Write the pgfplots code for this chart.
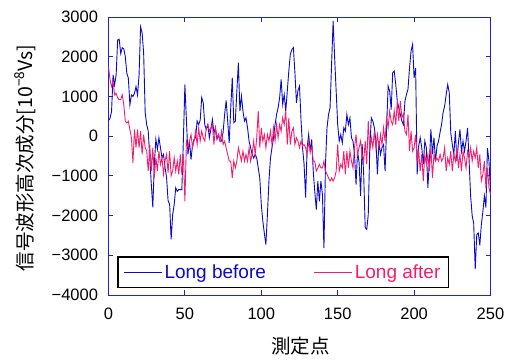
\documentclass[border=0pt]{standalone}
\usepackage{fontspec}
\setmainfont{Liberation Sans}
\newfontfamily\jp{Noto Sans CJK JP}
\usepackage{pgfplots}
\usepackage{pgfplotstable}
\pgfplotsset{compat=1.18}
\definecolor{axblue}{RGB}{30,30,235}
\definecolor{lblue}{RGB}{10,10,205}
\definecolor{lpink}{RGB}{245,30,110}
\pgfplotstableread{
x y
0 390
1 450
2 625
3 1540
4 1290
5 1540
6 2420
7 2440
8 2080
9 2225
10 2200
11 2000
12 1580
13 1460
14 790
15 1040
16 1000
17 1080
18 1250
19 1040
20 1540
21 2750
22 2600
23 2100
24 600
25 290
26 125
27 -540
28 -1200
29 -1790
30 -700
31 -80
32 -330
33 -40
34 -290
35 -540
36 -460
37 -790
38 -1040
39 -1630
40 -1710
41 -2600
42 -1975
43 -1720
44 -1300
45 -1390
46 -1345
47 -1345
48 -1350
49 -100
50 1300
51 400
52 -460
53 -125
54 -590
55 -210
56 -80
57 -40
58 380
59 290
60 400
61 970
62 840
63 290
64 170
65 290
66 -40
67 170
68 420
69 80
70 210
71 -80
72 40
73 -125
74 -125
75 100
76 545
77 900
78 380
79 -170
80 715
81 1470
82 340
83 380
84 1130
85 1850
86 630
87 1010
88 630
89 380
90 460
91 210
92 -125
93 -290
94 -460
95 -550
96 -460
97 -550
98 -800
99 -1050
100 -1720
101 -2140
102 -2450
103 -2730
104 -1975
105 -1130
106 -550
107 -290
108 -40
109 290
110 545
111 715
112 970
113 1430
114 800
115 1050
116 630
117 1130
118 1640
119 2060
120 2180
121 2230
122 1600
123 840
124 1150
125 1260
126 400
127 -300
128 -710
129 -1550
130 -290
131 40
132 -380
133 -80
134 -880
135 -1400
136 -1850
137 -1130
138 -1640
139 -1130
140 -1470
141 -2820
142 -710
143 210
144 545
145 715
146 1810
147 2900
148 1970
149 1130
150 290
151 -125
152 40
153 -170
154 210
155 125
156 545
157 290
158 460
159 -40
160 -125
161 -460
162 -1220
163 -380
164 -670
165 -1510
166 -200
167 -960
168 -2300
169 -2350
170 -1975
171 -290
172 460
173 380
174 210
175 -125
176 -960
177 -125
178 -460
179 -290
180 -210
181 -880
182 210
183 1260
184 1130
185 670
186 1600
187 1640
188 1300
189 880
190 715
191 545
192 380
193 290
194 880
195 1050
196 1180
197 1720
198 2140
199 2310
200 1470
201 1720
202 -960
203 -250
204 -40
205 -290
206 -710
207 -125
208 -290
209 -1300
210 -630
211 170
212 -460
213 -40
214 -630
215 -250
216 -125
217 100
218 300
219 600
220 760
221 1050
222 1300
223 1100
224 80
225 -210
226 -460
227 125
228 -630
229 -170
230 170
231 -380
232 -125
233 -380
234 -125
235 210
236 -630
237 -1510
238 -2000
239 -2200
240 -3350
241 -2480
242 -2440
243 -2750
244 -2230
245 -1900
246 -1500
247 -1800
248 -300
249 -630
250 -1390
}\before
\pgfplotstableread{
x y
0 1750
1 1420
2 1250
3 1375
4 1040
5 1080
6 960
7 920
8 920
9 1040
10 790
11 375
12 330
13 375
14 170
15 -40
16 -670
17 170
18 -290
19 170
20 -290
21 125
22 -460
23 40
24 -290
25 -375
26 -875
27 -210
28 -875
29 -290
30 -1040
31 -540
32 -875
33 -375
34 -710
35 -540
36 -960
37 -625
38 -460
39 -920
40 -375
41 -1000
42 -880
43 -540
44 -880
45 -630
46 -960
47 -460
48 -960
49 -460
50 -1640
51 -125
52 -290
53 -125
54 40
55 -290
56 -125
57 125
58 -210
59 210
60 -125
61 125
62 -40
63 -125
64 210
65 290
66 125
67 210
68 290
69 -210
70 210
71 -40
72 40
73 -125
74 125
75 -210
76 -125
77 -300
78 -460
79 -630
80 -630
81 -1050
82 -630
83 -800
84 -630
85 -290
86 -460
87 -630
88 -375
89 -630
90 -460
91 -630
92 -290
93 -630
94 -460
95 -125
96 -460
97 -40
98 630
99 -290
100 210
101 -125
102 40
103 -290
104 40
105 -125
106 125
107 -210
108 210
109 -125
110 290
111 -40
112 290
113 125
114 460
115 290
116 630
117 -210
118 460
119 -210
120 125
121 210
122 -210
123 -40
124 -125
125 -290
126 -125
127 -250
128 -210
129 -290
130 -460
131 -125
132 -380
133 -290
134 -630
135 -630
136 -880
137 -800
138 -710
139 -800
140 -800
141 -630
142 -880
143 -960
144 -1050
145 -1130
146 -1050
147 -1130
148 -1050
149 -880
150 -210
151 -880
152 -710
153 -800
154 -380
155 -960
156 -380
157 -800
158 -380
159 -630
160 -800
161 -290
162 40
163 -460
164 -290
165 -125
166 -460
167 -630
168 -125
169 -710
170 380
171 -375
172 -40
173 -290
174 125
175 -290
176 40
177 -290
178 40
179 -210
180 210
181 -125
182 460
183 210
184 630
185 380
186 290
187 630
188 290
189 880
190 380
191 880
192 460
193 550
194 125
195 40
196 545
197 -375
198 125
199 -375
200 -290
201 40
202 -630
203 -375
204 -880
205 -460
206 -1130
207 -460
208 -710
209 -460
210 -880
211 -290
212 -1050
213 -460
214 -630
215 -550
216 -630
217 -460
218 -630
219 -550
220 -290
221 -880
222 -550
223 -710
224 -380
225 -880
226 -460
227 -630
228 -290
229 -800
230 -460
231 -880
232 -380
233 -550
234 -800
235 -380
236 -550
237 -290
238 -630
239 -380
240 -550
241 -290
242 -800
243 -460
244 -1130
245 -960
246 -630
247 -1300
248 -800
249 -1300
250 -1470
}\after
\begin{document}
\begin{tikzpicture}
\useasboundingbox (-108.5pt,-64pt) rectangle (404.5pt,295pt);
\begin{axis}[
  at={(0pt,0pt)}, anchor=south west,
  width=382pt, height=278pt, scale only axis,
  xmin=0, xmax=250, ymin=-4000, ymax=3000,
  xtick={0,50,...,250},
  ytick={-4000,-3000,...,3000},
  yticklabels={−4000,−3000,−2000,−1000,0,1000,2000,3000},
  tick align=inside,
  major tick length=5pt,
  axis line style={axblue, line width=0.9pt},
  every tick/.style={axblue, line width=0.9pt},
  /pgf/number format/assume math mode=true,
  ticklabel style={font=\fontsize{16.5}{18}\selectfont},
  y tick label style={xshift=-7pt},
  x tick label style={yshift=-9pt},
  xlabel={\jp 測定点},
  ylabel={\jp 信号波形高次成分[10\textsuperscript{−8}Vs]},
  xlabel style={font=\fontsize{19.5}{20}\selectfont, at={(axis description cs:0.503,-0.183)}, anchor=center},
  ylabel style={font=\fontsize{19.5}{20}\selectfont, at={(axis description cs:-0.2186,0.493)}, anchor=center},
  legend columns=2,
  legend image code/.code={\draw[#1] (0pt,0pt) -- (38pt,0pt);},
  legend style={at={(axis description cs:0.0215,0.024)}, anchor=south west,
    draw=black, line width=1.8pt, fill=white,
    font=\fontsize{19}{21}\selectfont,
    inner xsep=6pt, inner ysep=5.5pt,
    /tikz/every even column/.append style={column sep=46pt}},
]
\addplot[lblue, line width=0.9pt] table[x=x,y=y] {\before};
\addlegendentry{\textcolor{lblue}{Long before}}
\addplot[lpink, line width=0.9pt] table[x=x,y=y] {\after};
\addlegendentry{\textcolor{lpink}{Long after}}
\end{axis}
\end{tikzpicture}
\end{document}
